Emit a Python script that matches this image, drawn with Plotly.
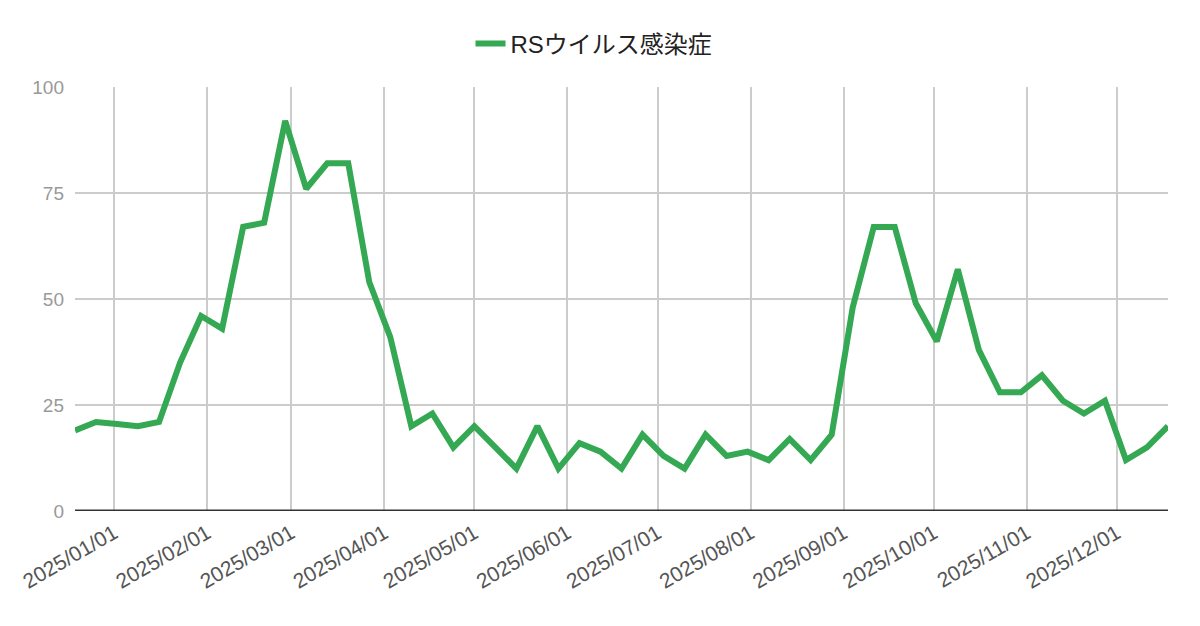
import plotly.graph_objects as go
import pandas as pd

# weekly figures (Thursday of each week)
start_date = "2024-12-19"
week_count = 53
dates = pd.date_range(start_date, periods=week_count, freq="7D")

rs_values = [19, 21, 20.5, 20, 21, 35, 46, 43, 67, 68,
             92, 76, 82, 82, 54, 41, 20, 23, 15, 20,
             15, 10, 20, 10, 16, 14, 10, 18, 13, 10,
             18, 13, 14, 12, 17, 12, 18, 48, 67, 67,
             49, 40, 57, 38, 28, 28, 32, 26, 23, 26,
             12, 15, 20]

y_ticks = [0, 25, 50, 75, 100]
series_name = "RSウイルス感染症"

fig = go.Figure()
fig.add_trace(go.Scatter(x=dates, y=rs_values, mode='lines', name=series_name,
                         line=dict(color='#34a853', width=6)))

fig.update_layout(
    width=1200, height=626,
    margin=dict(l=75, r=32, t=87, b=115),
    plot_bgcolor='white', paper_bgcolor='white',
    font=dict(family='Arial, Liberation Sans, Noto Sans CJK JP', size=17, color='#444'),
    showlegend=True,
    legend=dict(orientation='h', xref='container', yref='container', x=0.495, y=0.93,
                xanchor='center', yanchor='middle', itemwidth=30,
                font=dict(size=24, color='#222', family='Arial, Liberation Sans, Noto Sans CJK JP')),
    xaxis=dict(type='date', range=[dates[0], dates[-1]], tickformat='%Y/%m/%d', dtick='M1',
               tick0='2025-01-01', tickangle=-30, showgrid=True, gridcolor='#cccccc', gridwidth=2,
               ticks='', showline=False, zeroline=False, automargin=False, ticklabelstandoff=5,
               tickfont=dict(size=21, color='#555')),
    yaxis=dict(range=[0, 100], tickvals=y_ticks, showgrid=True, gridcolor='#cccccc', gridwidth=2,
               zeroline=False, showline=False, ticks='', ticklabelstandoff=10, automargin=False,
               tickfont=dict(size=19, color='#999')),
)
# dark baseline at zero
fig.add_hline(y=0, line=dict(color='#333', width=3), layer='above')
# remove the browser's default page margin so the figure sits at 0,0
fig.write_html("out.html", config={'displayModeBar': False},
               post_script="document.body.style.margin='0';")
